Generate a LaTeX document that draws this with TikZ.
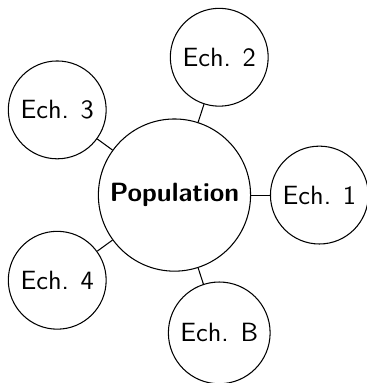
\documentclass[tikz,border=0pt]{standalone}
\usepackage{fontspec}
\begin{document}
\begin{tikzpicture}[
  every node/.style={font=\sffamily},
  bubble/.style={circle,draw,fill=white},
  link/.style={draw}
]
\useasboundingbox (-66.1pt,-71.2pt) rectangle (72.9pt,73.9pt);
\node[bubble] (pop) at (0,0) {\textbf{Population}};
\node[bubble] (e1) at (0:54.9pt) {Ech. 1};
\node[bubble] (e2) at (72:54.9pt) {Ech. 2};
\node[bubble] (e3) at (144:54.9pt) {Ech. 3};
\node[bubble] (e4) at (216:54.9pt) {Ech. 4};
\node[bubble] (eb) at (288:54.9pt) {Ech. B};
\foreach \n in {e1,e2,e3,e4,eb} \draw[link] (pop) -- (\n);
\end{tikzpicture}
\end{document}
